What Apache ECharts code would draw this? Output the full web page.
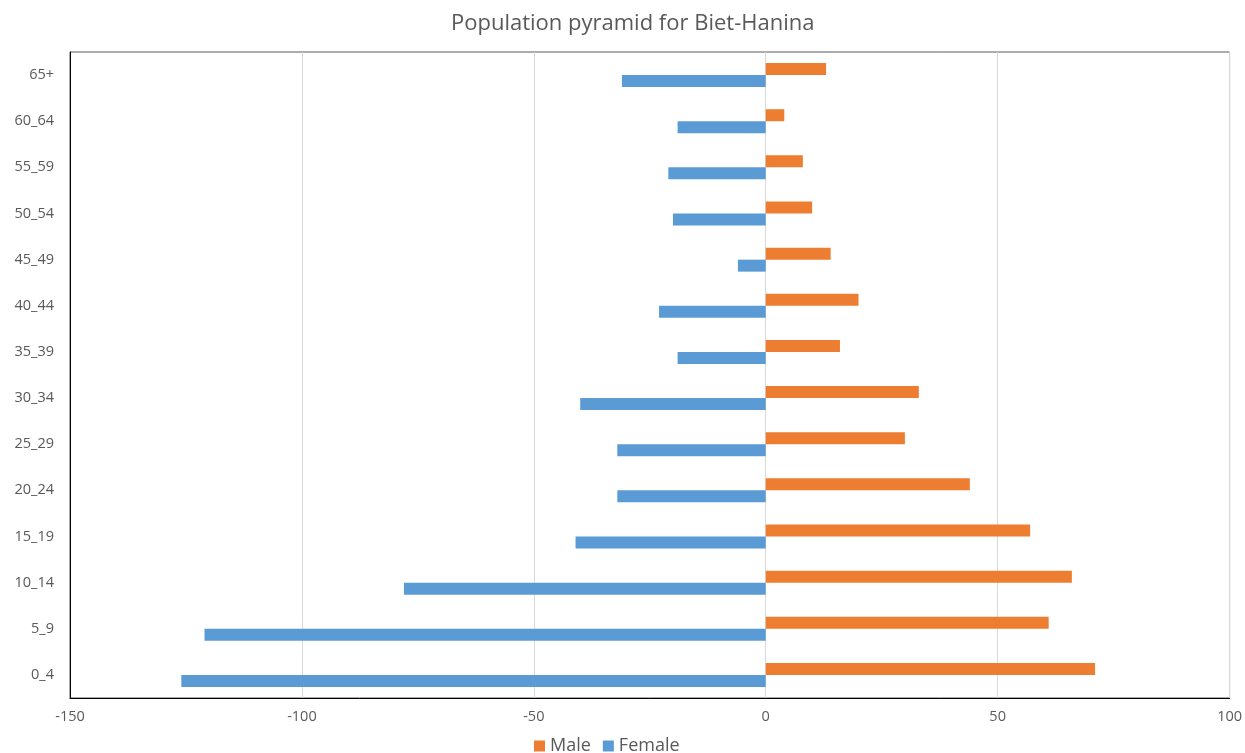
<!DOCTYPE html>
<html>
<head>
<meta charset="utf-8">
<script src="https://cdn.jsdelivr.net/npm/echarts@6/dist/echarts.min.js"></script>
<style>html,body{margin:0;padding:0;background:#fff;}#c{width:1245px;height:753px;}</style>
</head>
<body>
<div id="c"></div>
<script>
const categories = ['0_4','5_9','10_14','15_19','20_24','25_29','30_34','35_39','40_44','45_49','50_54','55_59','60_64','65+'];
const maleValues = [71, 61, 66, 57, 44, 30, 33, 16, 20, 14, 10, 8, 4, 13];
const femaleValues = [-126, -121, -78, -41, -32, -32, -40, -19, -23, -6, -20, -21, -19, -31];
const xTicks = { min: -150, max: 100, interval: 50 };

const chart = echarts.init(document.getElementById('c'));
const font = '"Open Sans", sans-serif';
chart.setOption({
  animation: false,
  textStyle: { fontFamily: font },
  title: {
    text: 'Population pyramid for Biet-Hanina',
    left: 446, top: 8,
    textStyle: { fontFamily: font, fontSize: 22, fontWeight: 'normal', color: '#595959' }
  },
  legend: {
    data: ['Male', 'Female'],
    top: 732, left: 529,
    itemWidth: 11, itemHeight: 11, itemGap: 12,
    icon: 'rect',
    textStyle: { fontFamily: font, fontSize: 18, color: '#595959' }
  },
  grid: { left: 70, right: 15, top: 52, bottom: 55, show: true, borderColor: '#595959', borderWidth: 1 },
  xAxis: {
    type: 'value', min: xTicks.min, max: xTicks.max, interval: xTicks.interval,
    axisLine: { show: true, lineStyle: { color: '#000' } },
    axisTick: { show: false },
    splitLine: { lineStyle: { color: '#D9D9D9' } },
    axisLabel: { color: '#595959', fontSize: 14.5, margin: 11, fontFamily: font }
  },
  yAxis: {
    type: 'category', data: categories,
    axisLine: { show: true, onZero: false, lineStyle: { color: '#000' } },
    axisTick: { show: false },
    axisLabel: { color: '#595959', fontSize: 14.5, margin: 16, fontFamily: font }
  },
  series: [
    { name: 'Male', type: 'bar', data: maleValues, barWidth: 12, barGap: '0%', itemStyle: { color: '#ED7D31' } },
    { name: 'Female', type: 'bar', data: femaleValues, barWidth: 12, barGap: '0%', itemStyle: { color: '#5B9BD5' } }
  ]
});
</script>
</body>
</html>
